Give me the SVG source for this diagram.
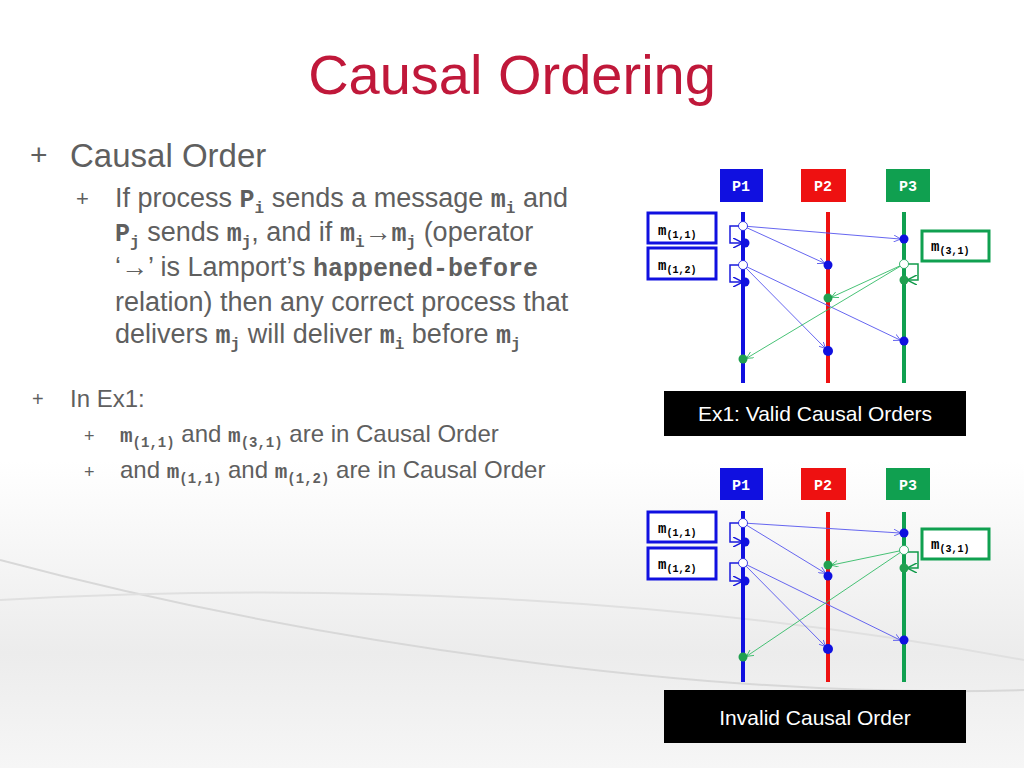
<svg xmlns="http://www.w3.org/2000/svg" width="1024" height="768" viewBox="0 0 1024 768">
<defs>
<linearGradient id="bg" x1="0" y1="0" x2="0" y2="1">
<stop offset="0" stop-color="#ffffff"/><stop offset="0.6" stop-color="#ffffff"/><stop offset="0.85" stop-color="#ececec"/><stop offset="1" stop-color="#f6f6f6"/>
</linearGradient>
<marker id="ab" viewBox="0 0 10 10" refX="9" refY="5" markerWidth="7" markerHeight="7" orient="auto" markerUnits="userSpaceOnUse"><path d="M0,0 L10,5 L0,10" fill="none" stroke="#5555ee" stroke-width="1.2"/></marker>
<marker id="ag" viewBox="0 0 10 10" refX="9" refY="5" markerWidth="7" markerHeight="7" orient="auto" markerUnits="userSpaceOnUse"><path d="M0,0 L10,5 L0,10" fill="none" stroke="#33bb66" stroke-width="1.2"/></marker>
<marker id="sb" viewBox="0 0 10 10" refX="9" refY="5" markerWidth="10" markerHeight="10" orient="auto" markerUnits="userSpaceOnUse"><path d="M0,0 L10,5 L0,10" fill="none" stroke="#1a1add" stroke-width="1.5"/></marker>
<marker id="sg" viewBox="0 0 10 10" refX="9" refY="5" markerWidth="10" markerHeight="10" orient="auto" markerUnits="userSpaceOnUse"><path d="M0,0 L10,5 L0,10" fill="none" stroke="#109a4a" stroke-width="1.5"/></marker>
</defs>
<style>
.t{font-family:"Liberation Sans",Arial,sans-serif;fill:#5f5f5f}
.m{font-family:"Liberation Mono","Courier New",monospace;font-weight:bold}
.pb{font-family:"Liberation Mono",monospace;font-weight:bold;font-size:15px;fill:#fff;text-anchor:middle}
.lb{fill:#fff;stroke-width:3}
.lbt{font-family:"Liberation Mono",monospace;font-weight:bold;font-size:14px;fill:#000}
.mb{stroke:#5555ee;stroke-width:0.9;fill:none;marker-end:url(#ab)}
.mg{stroke:#33bb66;stroke-width:0.9;fill:none;marker-end:url(#ag)}
.self-b{stroke:#1a1add;stroke-width:1.5;fill:none;marker-end:url(#sb)}
.self-g{stroke:#109a4a;stroke-width:1.5;fill:none;marker-end:url(#sg)}
.cap{font-family:"Liberation Sans",Arial,sans-serif;font-size:21px;fill:#fff;text-anchor:middle}
</style>
<rect width="1024" height="768" fill="url(#bg)"/>
<path d="M0,560 C300,640 700,700 1024,690" fill="none" stroke="#d8d8d8" stroke-width="2"/>
<path d="M0,600 C350,580 700,600 1024,660" fill="none" stroke="#e0e0e0" stroke-width="2"/>

<text x="512" y="94" text-anchor="middle" font-family="Liberation Sans,Arial,sans-serif" font-size="56" fill="#c0183a">Causal Ordering</text>

<g id="text-body">
<text class="t" x="30" y="165" font-size="30">+</text>
<text class="t" x="70" y="167" font-size="33">Causal Order</text>
<text class="t" x="76" y="206" font-size="22">+</text>
<text class="t" font-size="27"><tspan x="115" y="207">If process </tspan><tspan class="m" font-size="25">P</tspan><tspan class="m" font-size="16" dy="6">i</tspan><tspan dy="-6"> sends a message </tspan><tspan class="m" font-size="25">m</tspan><tspan class="m" font-size="16" dy="6">i</tspan><tspan dy="-6"> and</tspan></text>
<text class="t" font-size="27"><tspan class="m" font-size="25" x="115" y="241">P</tspan><tspan class="m" font-size="16" dy="6">j</tspan><tspan dy="-6"> sends </tspan><tspan class="m" font-size="25">m</tspan><tspan class="m" font-size="16" dy="6">j</tspan><tspan dy="-6">, and if </tspan><tspan class="m" font-size="25">m</tspan><tspan class="m" font-size="16" dy="6">i</tspan><tspan dy="-6">→</tspan><tspan class="m" font-size="25">m</tspan><tspan class="m" font-size="16" dy="6">j</tspan><tspan dy="-6"> (operator</tspan></text>
<text class="t" font-size="27"><tspan x="115" y="276">‘→’ is Lamport’s </tspan><tspan class="m" font-size="25">happened-before</tspan></text>
<text class="t" x="115" y="311" font-size="27">relation) then any correct process that</text>
<text class="t" font-size="27"><tspan x="115" y="343">delivers </tspan><tspan class="m" font-size="25">m</tspan><tspan class="m" font-size="16" dy="6">j</tspan><tspan dy="-6"> will deliver </tspan><tspan class="m" font-size="25">m</tspan><tspan class="m" font-size="16" dy="6">i</tspan><tspan dy="-6"> before </tspan><tspan class="m" font-size="25">m</tspan><tspan class="m" font-size="16" dy="6">j</tspan></text>
<text class="t" x="32" y="406" font-size="20">+</text>
<text class="t" x="70" y="407" font-size="24">In Ex1:</text>
<text class="t" x="84" y="442" font-size="18">+</text>
<text class="t" font-size="24"><tspan class="m" font-size="21" x="120" y="442">m</tspan><tspan class="m" font-size="14" dy="5">(1,1)</tspan><tspan dy="-5"> and </tspan><tspan class="m" font-size="21">m</tspan><tspan class="m" font-size="14" dy="5">(3,1)</tspan><tspan dy="-5"> are in Causal Order</tspan></text>
<text class="t" x="84" y="478" font-size="18">+</text>
<text class="t" font-size="24"><tspan x="120" y="478">and </tspan><tspan class="m" font-size="21">m</tspan><tspan class="m" font-size="14" dy="5">(1,1)</tspan><tspan dy="-5"> and </tspan><tspan class="m" font-size="21">m</tspan><tspan class="m" font-size="14" dy="5">(1,2)</tspan><tspan dy="-5"> are in Causal Order</tspan></text>
</g>

<!-- Diagram 1 -->
<g id="ex1-processes">
<rect x="720" y="169" width="43" height="33" fill="#1010e0"/><text class="pb" x="741" y="191">P1</text>
<rect x="801" y="169" width="45" height="33" fill="#ee1111"/><text class="pb" x="823" y="191">P2</text>
<rect x="886" y="169" width="44" height="33" fill="#10a050"/><text class="pb" x="908" y="191">P3</text>
<line x1="743" y1="212" x2="743" y2="383" stroke="#1010e0" stroke-width="4"/>
<line x1="828" y1="212" x2="828" y2="383" stroke="#ee1111" stroke-width="4"/>
<line x1="904" y1="212" x2="904" y2="383" stroke="#10a050" stroke-width="4"/>
</g>
<g id="ex1-labels">
<rect class="lb" x="648" y="213" width="68" height="30" stroke="#1010e0"/><text class="lbt" x="658" y="235">m<tspan font-size="10" dy="3">(1,1)</tspan></text>
<rect class="lb" x="648" y="248" width="68" height="31" stroke="#1010e0"/><text class="lbt" x="658" y="270">m<tspan font-size="10" dy="3">(1,2)</tspan></text>
<rect class="lb" x="922" y="231" width="67" height="30" stroke="#10a050"/><text class="lbt" x="931" y="251">m<tspan font-size="10" dy="3">(3,1)</tspan></text>
</g>
<g id="ex1-connectors">
<line class="mb" x1="743" y1="226" x2="900" y2="239"/>
<line class="mb" x1="743" y1="226" x2="824" y2="263"/>
<path class="self-b" d="M740,226 H730 V243 H742"/>
<line class="mb" x1="743" y1="265" x2="825" y2="348"/>
<line class="mb" x1="743" y1="265" x2="900" y2="340"/>
<path class="self-b" d="M740,265 H730 V282 H742"/>
<line class="mg" x1="904" y1="264" x2="832" y2="297"/>
<line class="mg" x1="904" y1="264" x2="747" y2="358"/>
<path class="self-g" d="M907,264 H918 V280 H908"/>
</g>
<g id="ex1-events">
<circle cx="743" cy="226" r="4.5" fill="#fff" stroke="#1010e0" stroke-width="0.8"/>
<circle cx="745" cy="243" r="4.5" fill="#1010e0"/>
<circle cx="743" cy="265" r="4.5" fill="#fff" stroke="#1010e0" stroke-width="0.8"/>
<circle cx="745" cy="282" r="4.5" fill="#1010e0"/>
<circle cx="743" cy="359" r="4.5" fill="#20a050"/>
<circle cx="828" cy="265" r="4.5" fill="#1010e0"/>
<circle cx="828" cy="298" r="4.5" fill="#20a050"/>
<circle cx="828" cy="351" r="5" fill="#1010e0"/>
<circle cx="904" cy="239" r="4.5" fill="#1010e0"/>
<circle cx="904" cy="264" r="4.5" fill="#fff" stroke="#10a050" stroke-width="0.8"/>
<circle cx="904" cy="280" r="4.5" fill="#20a050"/>
<circle cx="904" cy="341" r="4.5" fill="#1010e0"/>
</g>
<g id="ex1-caption"><rect x="664" y="391" width="302" height="45" fill="#000"/><text class="cap" x="815" y="421">Ex1: Valid Causal Orders</text></g>

<!-- Diagram 2 -->
<g id="ex2-processes">
<rect x="720" y="468" width="43" height="32" fill="#1010e0"/><text class="pb" x="741" y="490">P1</text>
<rect x="801" y="468" width="45" height="32" fill="#ee1111"/><text class="pb" x="823" y="490">P2</text>
<rect x="886" y="468" width="44" height="32" fill="#10a050"/><text class="pb" x="908" y="490">P3</text>
<line x1="743" y1="511" x2="743" y2="682" stroke="#1010e0" stroke-width="4"/>
<line x1="828" y1="512" x2="828" y2="682" stroke="#ee1111" stroke-width="4"/>
<line x1="904" y1="512" x2="904" y2="682" stroke="#10a050" stroke-width="4"/>
</g>
<g id="ex2-labels">
<rect class="lb" x="648" y="512" width="68" height="30" stroke="#1010e0"/><text class="lbt" x="658" y="533">m<tspan font-size="10" dy="3">(1,1)</tspan></text>
<rect class="lb" x="648" y="548" width="68" height="31" stroke="#1010e0"/><text class="lbt" x="658" y="569">m<tspan font-size="10" dy="3">(1,2)</tspan></text>
<rect class="lb" x="922" y="529" width="67" height="30" stroke="#10a050"/><text class="lbt" x="931" y="549">m<tspan font-size="10" dy="3">(3,1)</tspan></text>
</g>
<g id="ex2-connectors">
<line class="mb" x1="743" y1="523" x2="900" y2="533"/>
<line class="mb" x1="743" y1="523" x2="825" y2="573"/>
<path class="self-b" d="M740,523 H730 V542 H742"/>
<line class="mb" x1="743" y1="563" x2="825" y2="646"/>
<line class="mb" x1="743" y1="563" x2="900" y2="640"/>
<path class="self-b" d="M740,563 H730 V581 H742"/>
<line class="mg" x1="904" y1="550" x2="832" y2="565"/>
<line class="mg" x1="904" y1="550" x2="747" y2="656"/>
<path class="self-g" d="M907,552 H918 V568 H908"/>
</g>
<g id="ex2-events">
<circle cx="743" cy="523" r="4.5" fill="#fff" stroke="#1010e0" stroke-width="0.8"/>
<circle cx="745" cy="542" r="4.5" fill="#1010e0"/>
<circle cx="743" cy="563" r="4.5" fill="#fff" stroke="#1010e0" stroke-width="0.8"/>
<circle cx="745" cy="581" r="4.5" fill="#1010e0"/>
<circle cx="743" cy="657" r="4.5" fill="#20a050"/>
<circle cx="828" cy="565" r="4.5" fill="#20a050"/>
<circle cx="828" cy="576" r="4.5" fill="#1010e0"/>
<circle cx="828" cy="649" r="5" fill="#1010e0"/>
<circle cx="904" cy="533" r="4.5" fill="#1010e0"/>
<circle cx="904" cy="550" r="4.5" fill="#fff" stroke="#10a050" stroke-width="0.8"/>
<circle cx="904" cy="568" r="4.5" fill="#20a050"/>
<circle cx="904" cy="640" r="4.5" fill="#1010e0"/>
</g>
<g id="ex2-caption"><rect x="664" y="690" width="302" height="53" fill="#000"/><text class="cap" x="815" y="725">Invalid Causal Order</text></g>
</svg>
